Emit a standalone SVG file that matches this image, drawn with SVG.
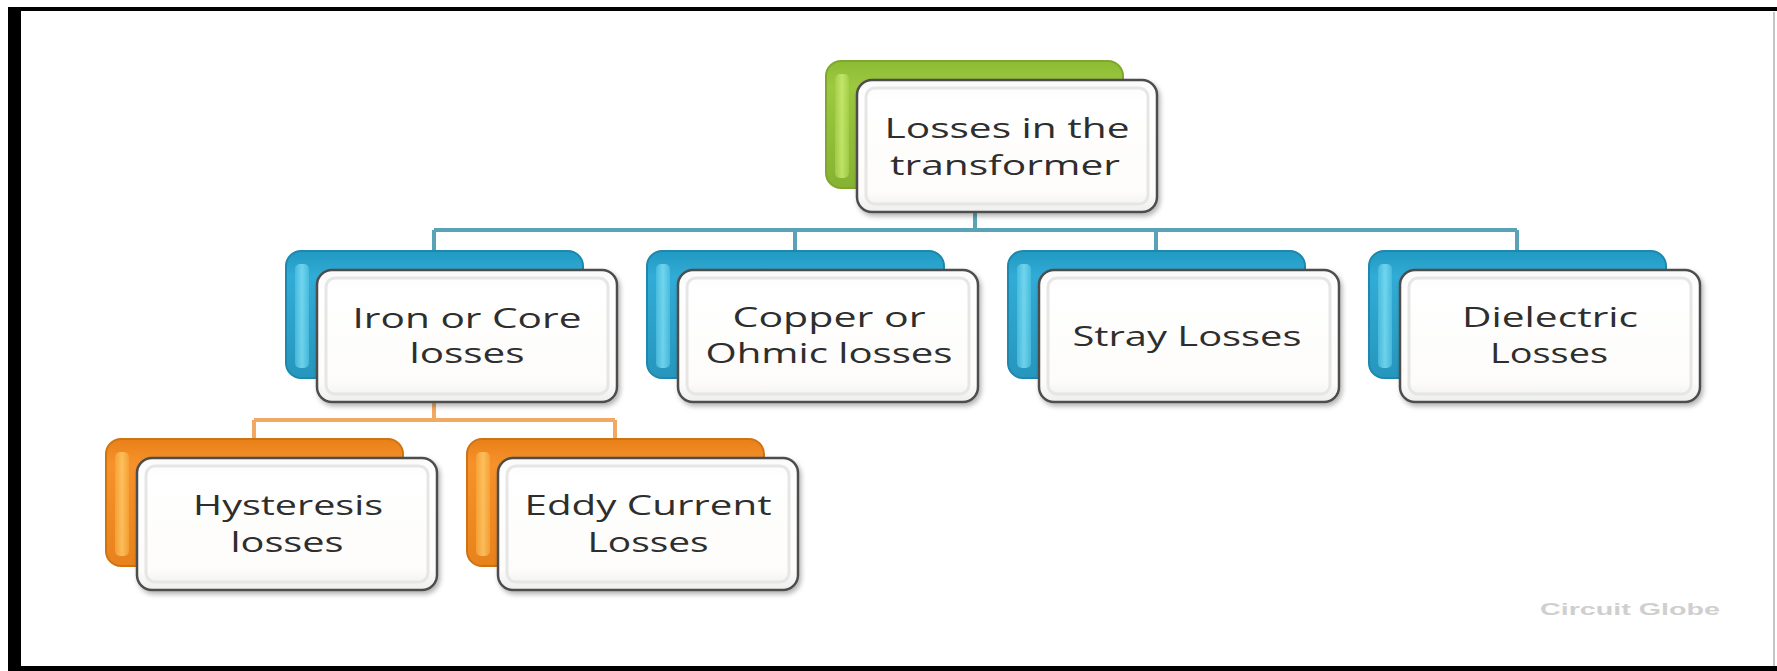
<svg xmlns="http://www.w3.org/2000/svg" width="1777" height="671" viewBox="0 0 1777 671">
<style>
.front{fill:url(#gFront);stroke:#4d4d4d;stroke-width:2.5}
.inner{fill:none;stroke:#e6e6e6;stroke-width:3}
.lbl{font-family:"Open Sans","Liberation Sans",sans-serif;font-size:28px;fill:#2e2e2e;text-anchor:middle}
.teal{fill:none;stroke:#5aa3b6;stroke-width:4}
.orng{fill:none;stroke:#f0a862;stroke-width:4}
.green{fill:url(#gGreen);stroke:#7fa62e;stroke-width:2}
.blue{fill:url(#gBlue);stroke:#1d88ad;stroke-width:2}
.orange{fill:url(#gOrange);stroke:#cf7312;stroke-width:2}
.hlG{fill:url(#hGreen);opacity:0.75}
.hlB{fill:url(#hBlue);opacity:0.75}
.hlO{fill:url(#hOrange);opacity:0.75}
</style>
<defs>
<linearGradient id="gFront" x1="0" y1="0" x2="0" y2="1">
<stop offset="0" stop-color="#fafafa"/><stop offset="0.15" stop-color="#ffffff"/><stop offset="0.85" stop-color="#fdfcfa"/><stop offset="1" stop-color="#eeeeee"/>
</linearGradient>
<linearGradient id="gGreen" x1="0" y1="0" x2="0" y2="1">
<stop offset="0" stop-color="#8cbb34"/><stop offset="0.2" stop-color="#9cc93f"/><stop offset="1" stop-color="#86b232"/>
</linearGradient>
<linearGradient id="gBlue" x1="0" y1="0" x2="0" y2="1">
<stop offset="0" stop-color="#2199c2"/><stop offset="0.2" stop-color="#31acd6"/><stop offset="1" stop-color="#2696bd"/>
</linearGradient>
<linearGradient id="gOrange" x1="0" y1="0" x2="0" y2="1">
<stop offset="0" stop-color="#e9801a"/><stop offset="0.2" stop-color="#f7922a"/><stop offset="1" stop-color="#e8821c"/>
</linearGradient>
<linearGradient id="hGreen" x1="0" y1="0" x2="1" y2="0">
<stop offset="0" stop-color="#a6d04a"/><stop offset="0.5" stop-color="#d0f078"/><stop offset="1" stop-color="#a6d04a"/>
</linearGradient>
<linearGradient id="hBlue" x1="0" y1="0" x2="1" y2="0">
<stop offset="0" stop-color="#4fc0e0"/><stop offset="0.5" stop-color="#86e4f8"/><stop offset="1" stop-color="#4fc0e0"/>
</linearGradient>
<linearGradient id="hOrange" x1="0" y1="0" x2="1" y2="0">
<stop offset="0" stop-color="#f7a638"/><stop offset="0.5" stop-color="#ffcf70"/><stop offset="1" stop-color="#f7a638"/>
</linearGradient>
<filter id="sh" x="-10%" y="-10%" width="125%" height="130%">
<feDropShadow dx="2" dy="3" stdDeviation="2.5" flood-color="#000" flood-opacity="0.3"/>
</filter>
</defs>
<rect width="1777" height="671" fill="#ffffff"/>
<g id="frame">
<rect x="8" y="7" width="1769" height="4" fill="#000"/>
<rect x="8" y="7" width="13" height="664" fill="#000"/>
<rect x="8" y="666" width="1769" height="5" fill="#000"/>
<rect x="1773" y="12" width="2" height="654" fill="#c4c4c4"/>
</g>
<g id="connectors">
<path class="teal" d="M975 187V230M434 230H1517M434 230V251M795 230V251M1156 230V251M1517 230V251"/>
<path class="orng" d="M434 378V420M254 420H615M254 420V439M615 420V439"/>
</g>
<g id="root">
<rect class="green" x="826" y="61" width="297" height="127" rx="15"/>
<rect class="hlG" x="835" y="74" width="14" height="104" rx="5"/>
<rect class="front" x="857" y="80" width="300" height="132" rx="15" filter="url(#sh)"/>
<rect class="inner" x="866" y="88" width="282" height="116" rx="9"/>
<text class="lbl" x="1007" y="138" textLength="245" lengthAdjust="spacingAndGlyphs">Losses in the</text>
<text class="lbl" x="1005" y="175" textLength="230" lengthAdjust="spacingAndGlyphs">transformer</text>
</g>
<g id="iron">
<rect class="blue" x="286" y="251" width="297" height="127" rx="15"/>
<rect class="hlB" x="295" y="264" width="14" height="104" rx="5"/>
<rect class="front" x="317" y="270" width="300" height="132" rx="15" filter="url(#sh)"/>
<rect class="inner" x="326" y="278" width="282" height="116" rx="9"/>
<text class="lbl" x="467" y="328" textLength="229" lengthAdjust="spacingAndGlyphs">Iron or Core</text>
<text class="lbl" x="467" y="363" textLength="115" lengthAdjust="spacingAndGlyphs">losses</text>
</g>
<g id="copper">
<rect class="blue" x="647" y="251" width="297" height="127" rx="15"/>
<rect class="hlB" x="656" y="264" width="14" height="104" rx="5"/>
<rect class="front" x="678" y="270" width="300" height="132" rx="15" filter="url(#sh)"/>
<rect class="inner" x="687" y="278" width="282" height="116" rx="9"/>
<text class="lbl" x="829" y="327" textLength="193" lengthAdjust="spacingAndGlyphs">Copper or</text>
<text class="lbl" x="829" y="363" textLength="247" lengthAdjust="spacingAndGlyphs">Ohmic losses</text>
</g>
<g id="stray">
<rect class="blue" x="1008" y="251" width="297" height="127" rx="15"/>
<rect class="hlB" x="1017" y="264" width="14" height="104" rx="5"/>
<rect class="front" x="1039" y="270" width="300" height="132" rx="15" filter="url(#sh)"/>
<rect class="inner" x="1048" y="278" width="282" height="116" rx="9"/>
<text class="lbl" x="1187" y="346" textLength="229" lengthAdjust="spacingAndGlyphs">Stray Losses</text>
</g>
<g id="dielectric">
<rect class="blue" x="1369" y="251" width="297" height="127" rx="15"/>
<rect class="hlB" x="1378" y="264" width="14" height="104" rx="5"/>
<rect class="front" x="1400" y="270" width="300" height="132" rx="15" filter="url(#sh)"/>
<rect class="inner" x="1409" y="278" width="282" height="116" rx="9"/>
<text class="lbl" x="1550" y="327" textLength="176" lengthAdjust="spacingAndGlyphs">Dielectric</text>
<text class="lbl" x="1549" y="363" textLength="118" lengthAdjust="spacingAndGlyphs">Losses</text>
</g>
<g id="hysteresis">
<rect class="orange" x="106" y="439" width="297" height="127" rx="15"/>
<rect class="hlO" x="115" y="452" width="14" height="104" rx="5"/>
<rect class="front" x="137" y="458" width="300" height="132" rx="15" filter="url(#sh)"/>
<rect class="inner" x="146" y="466" width="282" height="116" rx="9"/>
<text class="lbl" x="288" y="515" textLength="190" lengthAdjust="spacingAndGlyphs">Hysteresis</text>
<text class="lbl" x="287" y="552" textLength="113" lengthAdjust="spacingAndGlyphs">losses</text>
</g>
<g id="eddy">
<rect class="orange" x="467" y="439" width="297" height="127" rx="15"/>
<rect class="hlO" x="476" y="452" width="14" height="104" rx="5"/>
<rect class="front" x="498" y="458" width="300" height="132" rx="15" filter="url(#sh)"/>
<rect class="inner" x="507" y="466" width="282" height="116" rx="9"/>
<text class="lbl" x="648" y="515" textLength="247" lengthAdjust="spacingAndGlyphs">Eddy Current</text>
<text class="lbl" x="648" y="552" textLength="121" lengthAdjust="spacingAndGlyphs">Losses</text>
</g>
<text x="1540" y="615" font-family="'Liberation Sans',sans-serif" font-size="17" font-weight="bold" fill="#cfcfcf" textLength="180" lengthAdjust="spacingAndGlyphs">Circuit Globe</text>
</svg>
